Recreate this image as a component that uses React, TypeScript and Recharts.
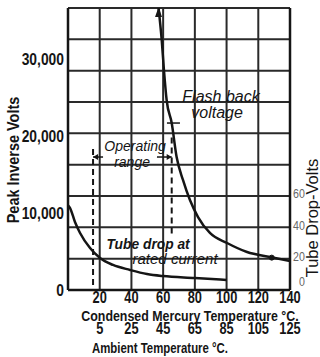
import React from 'react';
import {
  ComposedChart,
  Line,
  XAxis,
  YAxis,
  CartesianGrid,
  ReferenceLine,
  ReferenceDot,
} from 'recharts';

// ---------- data ----------
const condensedTicks = [0, 20, 40, 60, 80, 100, 120, 140];
const condensedLabels = ['', '20', '40', '60', '80', '100', '120', '140'];
const ambientTicks = [20, 40, 60, 80, 100, 120, 140];
const ambientLabels = ['5', '25', '45', '65', '85', '105', '125'];
const peakVoltTicks = [0, 10000, 20000, 30000];
const peakVoltLabels = ['0', '10,000', '20,000', '30,000'];
const tubeDropTicks = [0, 20, 40, 60, 80, 100, 120, 140, 160, 180];
const tubeDropLabels = ['0', '20', '40', '60', '', '', '', '', '', ''];

// Flash back voltage (condensed mercury temp °C -> peak inverse volts)
const flashBackTemp = [57.1, 59.1, 60.5, 62.2, 65.4, 68.5, 72.5, 76.9, 82, 89.5, 100.3, 112.9, 127.4, 140];
const flashBackVolts = [36600, 32450, 28550, 24660, 21670, 17260, 14280, 11680, 9470, 7400, 6100, 4930, 4280, 3760];

// Tube drop at rated current (condensed mercury temp °C -> tube drop volts)
const tubeDropTemp = [0, 1.3, 4.4, 7.6, 13.9, 20.2, 28.4, 39.1, 49.8, 59.9, 80.1, 100];
const tubeDropVolts = [54, 52.3, 43.4, 36.4, 26.8, 20.4, 16.0, 12.8, 10.2, 8.9, 7.7, 6.4];

// Operating range (condensed °C) and marks
const operatingRange = [15.8, 65.4];
const flashMarkerTemp = 128.5;
const flashMarkerVolts = 4200;

const flashBackData = flashBackTemp.map((t, i) => ({ t, v: flashBackVolts[i] }));
const tubeDropData = tubeDropTemp.map((t, i) => ({ t, v: tubeDropVolts[i] }));

// ---------- styles ----------
const SANS = "'Liberation Sans', Arial, sans-serif";
const INK = '#151515';

const lookup = (ticks: number[], labels: string[]) => (v: number) => {
  const i = ticks.indexOf(v);
  return i >= 0 ? labels[i] : '';
};

// text squeezed horizontally to imitate the narrow hand lettering
const NarrowText = (p: any) => {
  const { px, py, anchor = 'middle', base = '0.35em', size = 16, weight = 700, fill = INK, sx = 0.82, rot = 0, italic = false, children } = p;
  return (
    <text
      transform={`translate(${px},${py}) rotate(${rot}) scale(${sx},1)`}
      x={0}
      y={0}
      dy={base}
      textAnchor={anchor}
      fontSize={size}
      fontWeight={weight}
      fontStyle={italic ? 'italic' : 'normal'}
      fontFamily={SANS}
      fill={fill}
    >
      {children}
    </text>
  );
};

const AxisTitle = (props: any) => {
  const { viewBox, t, ox = 0, oy = 0, rot = 0, fs = 16, fw = 700, sx = 0.82 } = props;
  if (!viewBox) return null;
  const cx = viewBox.x + viewBox.width / 2 + ox;
  const cy = viewBox.y + viewBox.height / 2 + oy;
  return <NarrowText px={cx} py={cy} rot={rot} size={fs} weight={fw} sx={sx}>{t}</NarrowText>;
};

const Note = (props: any) => {
  const { viewBox, t, fs = 14, fw = 400, sx = 1 } = props;
  if (!viewBox) return null;
  const cx = viewBox.x + viewBox.width / 2;
  const cy = viewBox.y + viewBox.height / 2;
  return <NarrowText px={cx} py={cy} size={fs} weight={fw} sx={sx} italic>{t}</NarrowText>;
};

const CondensedTick = (props: any) => {
  const { x, y, payload } = props;
  const label = lookup(condensedTicks, condensedLabels)(payload.value);
  if (!label) return <g />;
  return <NarrowText px={x} py={y} base="0.71em" size={16} sx={0.8}>{label}</NarrowText>;
};

const AmbientTick = (props: any) => {
  const { x, y, payload } = props;
  const label = lookup(ambientTicks, ambientLabels)(payload.value);
  if (!label) return <g />;
  return <NarrowText px={x} py={y} base="0.71em" size={16} sx={0.8}>{label}</NarrowText>;
};

const PeakTick = (props: any) => {
  const { x, y, payload } = props;
  const label = lookup(peakVoltTicks, peakVoltLabels)(payload.value);
  return <NarrowText px={x} py={y} anchor="end" size={16.5} sx={0.84}>{label}</NarrowText>;
};

const RightTick = (props: any) => {
  const { x, y, payload } = props;
  const label = lookup(tubeDropTicks, tubeDropLabels)(payload.value);
  if (!label) return <g />;
  const isZero = payload.value === 0;
  return (
    <NarrowText px={x + (isZero ? 6 : 0)} py={y + (isZero ? -8 : -2)} anchor="start" size={12.5} weight={400} sx={0.85} fill="#666">
      {label}
    </NarrowText>
  );
};

const ArrowHeadDot = (props: any) => {
  const { cx, cy, index } = props;
  if (index !== 0 || cx == null) return <g key={`d${index}`} />;
  return <path key="arrow" d={`M${cx},${cy - 1} L${cx - 3.5},${cy + 9} L${cx + 3.5},${cy + 9} Z`} fill={INK} />;
};

const ArrowSegment = (props: any) => {
  const { x1, y1, x2, y2 } = props;
  const dir = x2 > x1 ? 1 : -1;
  return (
    <g>
      <line x1={x1} y1={y1} x2={x2} y2={y2} stroke={INK} strokeWidth={1.5} />
      <path d={`M${x2},${y2} L${x2 - dir * 5},${y2 - 3} L${x2 - dir * 5},${y2 + 3} Z`} fill={INK} />
    </g>
  );
};

export default function App() {
  const arrowV = 17260;
  return (
    <div style={{ position: 'absolute', left: 0, top: 0, width: 320, height: 357, background: '#fff' }}>
      <ComposedChart width={320} height={357} margin={{ top: 8, right: 0, bottom: 0, left: 0 }}>
        <CartesianGrid xAxisId="x1" yAxisId="r" stroke="#2a2a2a" strokeWidth={2} />
        <XAxis
          xAxisId="x1"
          type="number"
          dataKey="t"
          domain={[0, 140]}
          allowDataOverflow
          ticks={condensedTicks}
          tickLine={false}
          tickSize={0}
          tickMargin={2}
          axisLine={{ stroke: INK, strokeWidth: 2.5 }}
          tick={<CondensedTick />}
          height={32}
          interval={0}
          label={<AxisTitle t="Condensed Mercury Temperature °C." ox={11} oy={10} fs={15.5} sx={0.8} />}
        />
        <XAxis
          xAxisId="x2"
          type="number"
          dataKey="t"
          domain={[0, 140]}
          allowDataOverflow
          ticks={ambientTicks}
          tickLine={false}
          tickSize={0}
          tickMargin={1}
          axisLine={false}
          tick={<AmbientTick />}
          height={35}
          interval={0}
          label={<AxisTitle t="Ambient Temperature °C." ox={-19} oy={8} fs={15} sx={0.76} />}
        />
        <YAxis
          yAxisId="l"
          type="number"
          domain={[0, 36600]}
          allowDataOverflow
          ticks={peakVoltTicks}
          tickLine={false}
          tickSize={0}
          tickMargin={4}
          axisLine={{ stroke: INK, strokeWidth: 2.5 }}
          tick={<PeakTick />}
          width={68}
          interval={0}
          label={<AxisTitle t="Peak Inverse Volts" rot={-90} ox={-21} oy={11} fs={17} sx={0.85} />}
        />
        <YAxis
          yAxisId="r"
          orientation="right"
          type="number"
          domain={[0, 180]}
          allowDataOverflow
          ticks={tubeDropTicks}
          tickLine={false}
          tickSize={0}
          tickMargin={3}
          axisLine={{ stroke: INK, strokeWidth: 2.5 }}
          tick={<RightTick />}
          width={30}
          interval={0}
          label={<AxisTitle t="Tube Drop-Volts" rot={-90} ox={7} oy={69} fs={16.5} fw={400} sx={1} />}
        />

        {/* Operating range dashed verticals */}
        <ReferenceLine xAxisId="x1" yAxisId="l" ifOverflow="visible"
          segment={[{ x: operatingRange[0], y: 18300 }, { x: operatingRange[0], y: 0 }]}
          stroke={INK} strokeWidth={2} strokeDasharray="6 4" />
        <ReferenceLine xAxisId="x1" yAxisId="l" ifOverflow="visible"
          segment={[{ x: operatingRange[1], y: 19800 }, { x: operatingRange[1], y: 6900 }]}
          stroke={INK} strokeWidth={2} strokeDasharray="6 4" />
        {/* tick across the flash-back curve */}
        <ReferenceLine xAxisId="x1" yAxisId="l" ifOverflow="visible"
          segment={[{ x: 62.4, y: 21670 }, { x: 70.6, y: 21670 }]}
          stroke={INK} strokeWidth={1.5} />
        {/* operating range arrows */}
        <ReferenceLine xAxisId="x1" yAxisId="l" ifOverflow="visible"
          segment={[{ x: 22.1, y: arrowV }, { x: operatingRange[0], y: arrowV }]}
          shape={<ArrowSegment />} />
        <ReferenceLine xAxisId="x1" yAxisId="l" ifOverflow="visible"
          segment={[{ x: 56.1, y: arrowV }, { x: operatingRange[1], y: arrowV }]}
          shape={<ArrowSegment />} />

        <Line
          xAxisId="x1"
          yAxisId="l"
          data={flashBackData}
          dataKey="v"
          type="monotone"
          stroke={INK}
          strokeWidth={2.5}
          dot={<ArrowHeadDot />}
          activeDot={false}
          isAnimationActive={false}
        />
        {/* tube drop curve is attached to the second (ambient) x axis: same 0-140 scale */}
        <Line
          xAxisId="x2"
          yAxisId="r"
          data={tubeDropData}
          dataKey="v"
          type="monotone"
          stroke={INK}
          strokeWidth={2.5}
          dot={false}
          activeDot={false}
          isAnimationActive={false}
        />
        <ReferenceDot xAxisId="x1" yAxisId="l" x={flashMarkerTemp} y={flashMarkerVolts} r={2.5}
          fill={INK} stroke={INK} ifOverflow="visible" />

        {/* annotations */}
        <ReferenceDot xAxisId="x1" yAxisId="l" x={96.5} y={25180} r={1} fill="none" stroke="none" ifOverflow="visible"
          label={<Note t="Flash back" fs={16} />} />
        <ReferenceDot xAxisId="x1" yAxisId="l" x={94} y={23100} r={1} fill="none" stroke="none" ifOverflow="visible"
          label={<Note t="voltage" fs={16} />} />
        <ReferenceDot xAxisId="x1" yAxisId="l" x={50.5} y={5970} r={1} fill="none" stroke="none" ifOverflow="visible"
          label={<Note t="Tube drop at" fs={15} fw={700} sx={0.92} />} />
        <ReferenceDot xAxisId="x1" yAxisId="l" x={67.5} y={4020} r={1} fill="none" stroke="none" ifOverflow="visible"
          label={<Note t="rated current" fs={15} />} />
        <ReferenceDot xAxisId="x1" yAxisId="l" x={42.3} y={18690} r={1} fill="none" stroke="none" ifOverflow="visible"
          label={<Note t="Operating" fs={14} />} />
        <ReferenceDot xAxisId="x1" yAxisId="l" x={40.4} y={16610} r={1} fill="none" stroke="none" ifOverflow="visible"
          label={<Note t="range" fs={14} />} />
      </ComposedChart>
    </div>
  );
}
